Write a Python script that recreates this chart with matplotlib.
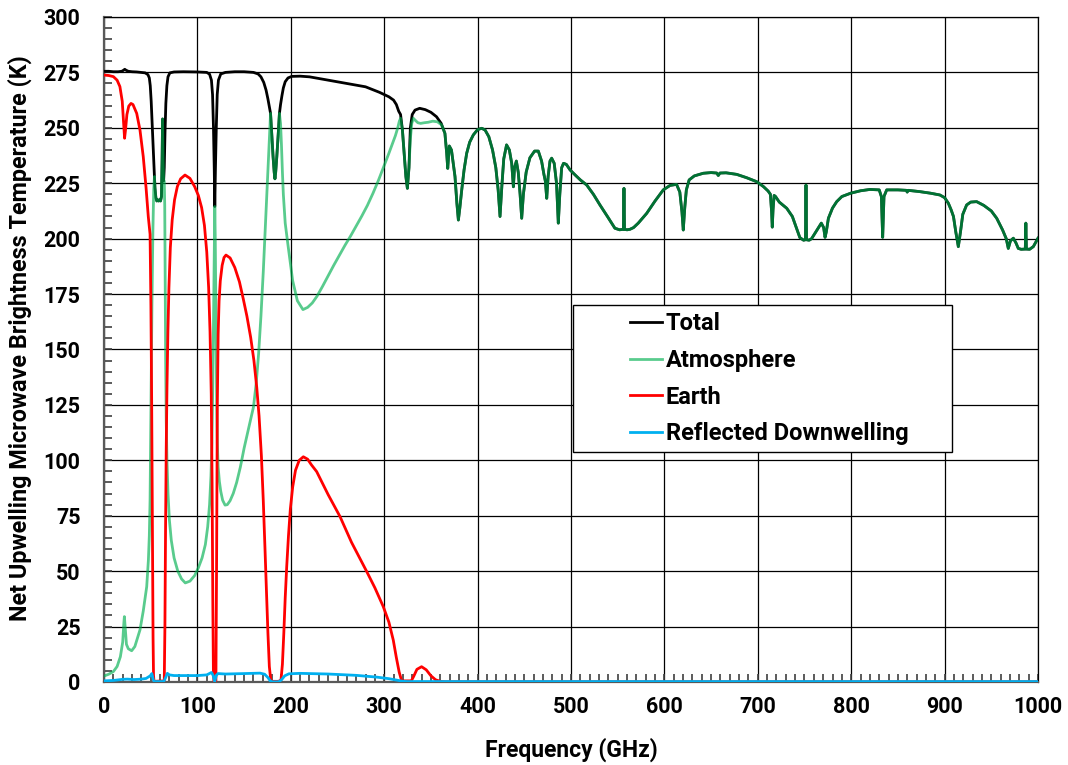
import numpy as np
import matplotlib
matplotlib.use("Agg")
import matplotlib.pyplot as plt
from matplotlib.patches import Rectangle
from matplotlib.ticker import MultipleLocator

plt.rcParams['font.family'] = ['Roboto', 'DejaVu Sans']
plt.rcParams['font.weight'] = 'bold'

# ---- data (GHz, K) ----
# total brightness temperature below 365 GHz
f_total_low = [0, 5, 10, 15, 19, 21, 22.2, 23.5, 26, 30, 35, 40, 44, 47, 48.5, 49.5, 50.5, 51.5,
               52.5, 53.5, 54.5, 55.5, 56.5, 57.5, 58.5, 59.5, 60.5, 61.5, 62.2, 62.7, 63.2, 63.8,
               64.5, 65.3, 66.2, 67.3, 68.5, 70.5, 75, 85, 100, 110, 113, 115, 116.2, 117.2, 118,
               118.6, 119.3, 120.2, 121.2, 122.5, 125, 130, 140, 150, 160, 165, 168, 171, 173.5,
               175.5, 177, 178.3, 179.5, 181, 182.2, 183, 183.8, 185, 186.5, 187.8, 189, 190.5,
               192, 194, 197, 201, 210, 220, 240, 260, 280, 295, 305, 310, 313, 315.5, 317.5,
               319.5, 321.5, 323.2, 324.8, 326.5, 328, 330, 333, 338, 344, 350, 356, 361]
total_low = [275.5, 275.5, 275.3, 275.3, 275.5, 276, 276.4, 276, 275.5, 275.3, 275.2, 275, 274.8,
             274, 272.5, 269, 262, 252, 241, 231, 223, 218.5, 217, 217.5, 217, 217.5, 217, 219,
             236, 254, 236, 226, 232, 248, 261, 269, 273, 274.8, 275.2, 275.3, 275.2, 275, 274.2,
             271.5, 265, 250, 232, 214.5, 232, 250, 265, 271.5, 274.3, 275, 275.3, 275.3, 275,
             274.3, 273, 270.5, 267, 263, 259.5, 256.5, 248, 237, 230, 227, 230, 237, 247, 256.5,
             260.5, 264.5, 268, 270.8, 272.5, 273.2, 273.3, 273, 271.5, 270, 268.5, 266, 264,
             262.5, 260.5, 257.5, 256, 249, 238, 228, 222.7, 232, 250, 256, 258, 258.8, 258.2,
             257, 255, 252]

# atmosphere contribution below 365 GHz
f_atm_low = [0, 5, 10, 14, 17.5, 20, 21.3, 21.8, 22.6, 24, 26, 29.6, 33, 38.5, 42, 45.7, 47.5,
             48.5, 49.3, 50.3, 51.3, 52.3, 53.2, 54, 54.5, 55.5, 56.5, 57.5, 58.5, 59.5, 60.5,
             61.5, 62.2, 62.7, 63.2, 63.8, 64.5, 65, 65.5, 66, 66.6, 67.4, 68.5, 70, 72, 75, 79,
             83, 87, 92, 97, 101, 105, 108.5, 111, 113, 114.5, 115.5, 116.5, 117.5, 118.2, 118.6,
             119.1, 119.8, 120.6, 121.3, 122.2, 123.5, 125, 127, 129.6, 132, 135, 138.4, 142, 146,
             150, 154, 157, 160, 163, 165.5, 168, 170.5, 172.5, 174.5, 176.5, 178.3, 179.5, 181,
             182.2, 183, 183.8, 185, 186.5, 187.8, 189, 190, 191, 192, 194, 197, 202, 207, 213,
             218, 223, 228, 234, 240, 246, 252, 258, 264, 270, 276, 282, 288, 294, 300, 305, 309,
             312, 314.5, 316.2, 317.5, 319.5, 321.5, 323.2, 324.8, 326.5, 328, 329.5, 331.2, 333,
             336, 339, 343, 347, 352, 357, 361.5]
atm_low = [2.7, 3.5, 4.7, 7, 11.4, 18, 27, 29.5, 25, 17, 15, 14.1, 16, 23.5, 32, 43, 55, 66, 82,
           127, 170, 203, 222, 228, 223, 218.5, 217, 217.5, 217, 217.5, 217, 219, 236, 254, 236,
           226, 226, 215, 180, 145, 118, 100, 85, 73, 64, 56, 50, 46.5, 44.7, 45.5, 48, 51.5, 56,
           62, 70, 80, 93, 108, 135, 175, 205, 214.5, 200, 165, 127, 108, 97, 90.5, 86, 82, 79.8,
           80, 81.8, 85.1, 90, 97, 105.5, 113, 118.5, 124, 135, 148, 165, 185, 203, 220, 240,
           256.5, 248, 237, 230, 227, 230, 237, 247, 256.5, 252, 242, 230, 220, 207, 197, 181,
           172, 168, 169, 171, 174, 178.5, 183.3, 188, 192.5, 197, 201.2, 205.7, 210.2, 215,
           220.5, 226.5, 233, 238.5, 243, 246.5, 250, 253, 254.3, 249, 238, 228, 222.7, 232, 245,
           252, 254.3, 253.5, 252.3, 252, 252.3, 252.5, 253, 252.7, 251.3]

# above ~365 GHz total and atmosphere coincide
f_high = [365, 366.9, 368, 369.7, 372, 375.8, 377.8, 379.4, 381, 383, 385.5, 388.3, 391.5, 395.4,
          400, 404.4, 408, 412, 416, 419.5, 422, 424, 426, 428, 431, 434, 436.5, 438.3, 439.5,
          441.5, 443.5, 445.5, 447.2, 449, 452, 456, 461, 465, 468.5, 471, 472.5, 474, 475.5,
          477.5, 479.3, 482, 484.5, 486.4, 488, 490, 492, 495, 499, 505, 510, 516.8, 524, 531,
          539, 547, 552, 556.1, 556.7, 557.3, 560, 563, 567, 572, 581, 590, 598.8, 606, 613,
          616.5, 618.8, 620.2, 621.8, 623.5, 626.5, 632, 641.6, 650, 656, 657.7, 659.5, 666,
          677.4, 688, 698.8, 706, 711, 713.5, 714.8, 715.5, 716.3, 717.5, 719, 723, 731, 737,
          745, 749, 751, 751.6, 752.2, 755, 757.6, 762, 768, 770.5, 772, 773.3, 775.6, 780,
          784.5, 790, 799.4, 810, 820, 830, 832.3, 833.7, 835.1, 838, 850, 859, 860, 861, 873.7,
          885, 895, 900, 904, 907, 909.5, 912, 914.7, 917, 919.5, 923.6, 928, 934.3, 942, 950,
          955.8, 962, 966, 968.2, 970.5, 973.6, 976.5, 978.9, 982, 986.4, 987, 987.6, 991, 995,
          1000]
tb_high = [247.5, 238.5, 231.7, 241.8, 240, 228, 216, 208.4, 214, 222, 231, 238.5, 243.5, 246.8,
           249.2, 249.8, 249, 246, 240, 232, 222, 210, 224, 236, 242.3, 240, 234, 223.4, 232, 235,
           230, 220, 209.2, 220, 230, 236.5, 239.5, 239.5, 235, 229, 226, 218.2, 228, 235, 236.3,
           234, 225, 207, 220, 232, 234, 233.5, 231, 228.5, 226.5, 224.2, 220, 215.2, 210, 204.7,
           204, 204.2, 222.7, 204.2, 204, 204.2, 205, 207, 211.4, 217, 222, 224, 224.5, 221, 212,
           203.9, 214, 222, 226.5, 228.3, 229.5, 229.8, 229.6, 228.5, 229.6, 229.7, 229, 227.5,
           225.7, 223.5, 221.5, 220, 212, 205.2, 213, 219.5, 219, 216.5, 213.7, 210, 200.5, 199.3,
           199.5, 224.2, 199.5, 199.3, 200, 203, 207, 205, 200.6, 203, 209.2, 213.8, 216.7, 219,
           220.5, 221.6, 222.2, 222, 219, 200.6, 219, 222, 222, 221.8, 221, 221.8, 221.2, 220.5,
           219.7, 218.5, 216, 213, 210, 203, 196.4, 203, 211, 215.2, 216.5, 216.7, 215, 212.5,
           209.2, 204, 200, 195.6, 199, 200.2, 198, 195.6, 195.2, 195.3, 207, 195.3, 195.2, 196.4,
           200.2]

# earth (surface) contribution
f_earth = [0, 5, 10, 14, 17, 19.5, 21, 22, 23, 24.5, 26.5, 28.9, 31, 35, 38.5, 42, 45, 47.4, 49.3,
           50.2, 51, 51.8, 52.5, 53, 53.5, 64.5, 65.2, 65.9, 66.6, 67.4, 68.4, 69.5, 71, 73, 75.5,
           78.5, 82, 86.7, 92, 97, 101, 104.5, 107.5, 110, 112, 113.5, 114.8, 115.7, 116.5, 117.1,
           117.6, 119.8, 120.6, 121.3, 122.2, 123.2, 124.5, 126.5, 128.5, 130.6, 135, 140, 145,
           149, 153, 157, 160.5, 163.5, 166, 168.5, 170.5, 172.4, 174, 175.5, 177, 178.5, 179.5,
           187, 189.5, 191, 192.5, 194, 195.6, 197.5, 199.5, 202, 205, 209, 213.4, 218, 222, 227.7,
           240, 252.7, 265, 281.3, 290, 299, 305, 309.7, 313, 316, 318.7, 329, 331.5, 335, 340,
           345, 350, 355, 360, 365, 1000]
earth = [273.8, 273.6, 273.1, 271.5, 268.6, 262, 252, 245.3, 249, 256, 259.8, 261, 260.5, 256.5,
         249, 237, 223, 209.9, 202, 170, 127, 70, 20, 3, 0.3, 0.5, 25, 70, 105, 133, 158, 178, 196,
         208.5, 217.5, 223.5, 227, 228.7, 227.2, 223.5, 219.5, 214, 206, 194, 178, 158, 130, 90,
         35, 5, 0.5, 0.5, 60, 125, 157, 172, 181, 188, 191.5, 192.6, 191.3, 187, 180.5, 173, 165,
         155.5, 145, 133, 120, 102, 82, 59.5, 40, 22, 7, 1, 0.3, 0.3, 1, 8, 22, 38, 52, 66, 78,
         88, 95.5, 100, 101.6, 100.5, 98, 94.9, 84.5, 74.6, 63, 49.8, 42.5, 34, 27, 18.9, 11, 4.5,
         0.5, 0.5, 2.5, 5.7, 6.9, 5.5, 2.8, 1, 0.3, 0.1, 0.1]

# reflected downwelling contribution
f_refl = [0, 10, 20, 25, 32, 40, 45, 49.5, 51.2, 52.5, 53.5, 64, 66, 67.8, 70, 75, 100, 110, 115,
          116.8, 118.5, 120.2, 122, 130, 150, 167, 172, 175.5, 178, 180, 187, 190, 193.5, 198,
          210, 240, 270, 292, 305, 314, 320, 325, 1000]
refl = [0.5, 0.7, 1.2, 1.3, 1.1, 1.3, 1.6, 2.8, 3.8, 1.5, 0.2, 0.2, 2, 3.9, 3.2, 2.9, 2.9, 3.2,
        4.3, 3, 0.1, 3, 3.8, 3.6, 3.8, 4.0, 3.5, 2, 0.5, 0.1, 0.1, 1, 2.8, 3.7, 3.9, 3.6, 3,
        2.2, 1.5, 0.8, 0.3, 0.2, 0.2]

f_total = f_total_low + f_high
total = total_low + tb_high
f_atm = f_atm_low + f_high
atm = atm_low + tb_high

# ---- plot ----
fig = plt.figure(figsize=(10.68, 7.65), dpi=100)
ax = fig.add_axes([0.0974, 0.1085, 0.8745, 0.8693])

lw = 2.0
ax.plot(f_total, total, color='black', lw=lw, label='Total', zorder=3)
ax.plot(f_atm, atm, color='#00B050', alpha=0.65, lw=lw, label='Atmosphere', zorder=4)
ax.plot(f_earth, earth, color='#FF0000', lw=lw, label='Earth', zorder=5)
ax.plot(f_refl, refl, color='#00B0F0', lw=lw, label='Reflected Downwelling', zorder=6)

ax.set_xlim(0, 1000)
ax.set_ylim(0, 300)
ax.xaxis.set_major_locator(MultipleLocator(100))
ax.xaxis.set_minor_locator(MultipleLocator(10))
ax.yaxis.set_major_locator(MultipleLocator(25))
ax.yaxis.set_minor_locator(MultipleLocator(5))
ax.grid(True, which='major', color='black', lw=0.9, zorder=1)
ax.set_axisbelow(True)

ax.tick_params(which='both', direction='in', color='#404040', labelsize=15.5)
ax.tick_params(axis='y', which='both', length=6, width=1.2, pad=17)
ax.tick_params(axis='x', which='both', length=6, width=1.2, pad=10)
for s in ['top', 'right']:
    ax.spines[s].set_color('black')
    ax.spines[s].set_linewidth(0.9)
for s in ['left', 'bottom']:
    ax.spines[s].set_color('#595959')
    ax.spines[s].set_linewidth(1.6)

ax.set_xlabel('Frequency (GHz)', fontsize=16.5, fontweight='bold')
ax.set_ylabel('Net Upwelling Microwave Brightness Temperature (K)', fontsize=16.8,
              fontweight='bold')
ax.xaxis.set_label_coords(0.5, -0.083)
ax.yaxis.set_label_coords(-0.077, 0.517)

# legend box
ax.add_patch(Rectangle((0.502, 0.346), 0.406, 0.221, transform=ax.transAxes,
                       facecolor='white', edgecolor='black', lw=1.0, zorder=7))
leg = ax.legend(loc='upper left', bbox_to_anchor=(0.563, 0.556), frameon=False,
                fontsize=17, handlelength=1.35, handletextpad=0.17, labelspacing=0.58,
                borderpad=0, borderaxespad=0)
leg.set_zorder(8)
for t in leg.get_texts():
    t.set_fontweight('bold')
for h in leg.get_lines():
    h.set_linewidth(2.0)

fig.savefig('out.png', dpi=100)
